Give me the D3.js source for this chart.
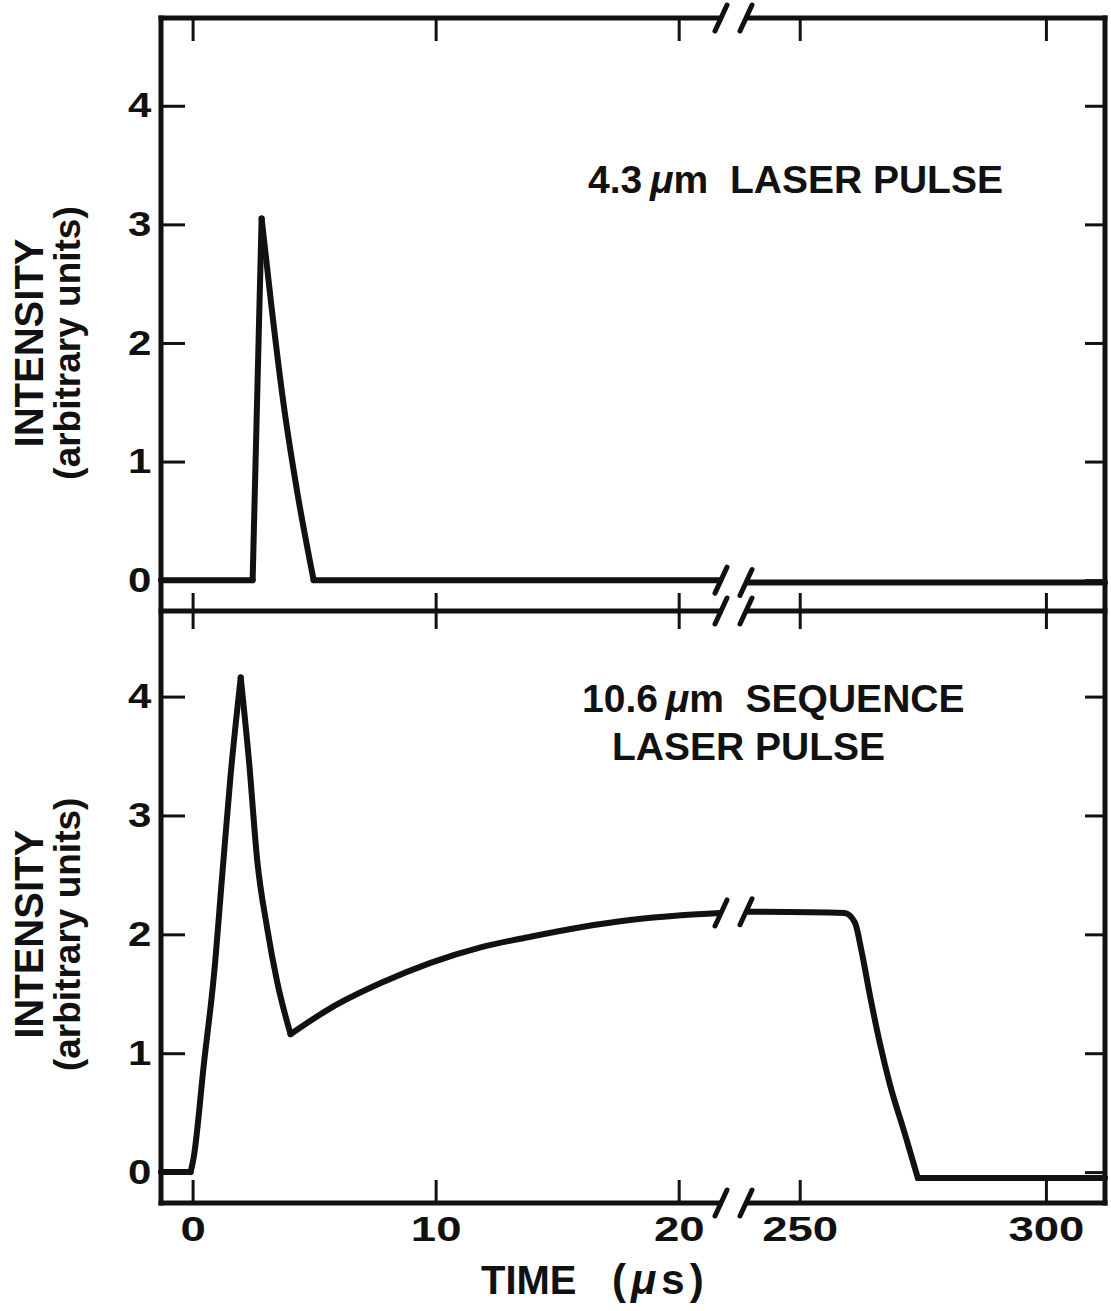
<!DOCTYPE html>
<html>
<head>
<meta charset="utf-8">
<script src="https://cdn.jsdelivr.net/npm/d3@7"></script>
<style>
  body { margin: 0; background: #fff; }
  text { font-family: "Liberation Sans", Arial, sans-serif; font-weight: bold; fill: #111; white-space: pre; }
</style>
</head>
<body>
<svg id="chart" width="1111" height="1311"></svg>
<script>
// Tick values of the broken time axis (µs) and of the intensity axes
const earlyTicks = [0, 10, 20];
const lateTicks = [250, 300];
const intensityTicks = [0, 1, 2, 3, 4];

// 4.3 µm laser pulse: early part (0–22 µs) and late part (240–312 µs)
const pulseEarlyTime  = [-1.3, 2.47, 2.84, 3.25, 3.7, 4.3, 4.98, 21.7];
const pulseEarlyValue = [0,    0,    3.05, 2.30, 1.55, 0.75, 0,  0];
const pulseLateTime   = [239.5, 312];
const pulseLateValue  = [-0.02, -0.02];

// 10.6 µm sequence laser pulse
const seqEarlyTime  = [-1.3, -0.08, 0.05, 0.47, 0.88, 1.22, 1.56, 1.98, 2.32, 2.66, 3.07, 3.48, 4.03,
                       5.68, 7.74, 9.79, 11.85, 13.9, 15.97, 18.0, 20.1, 21.7];
const seqEarlyValue = [0,    0,     0.13, 0.92, 1.66, 2.50, 3.33, 4.16, 3.46, 2.62, 2.05, 1.60, 1.16,
                       1.38, 1.59, 1.76, 1.89, 1.98, 2.06, 2.12, 2.16, 2.18];
const seqLateTime   = [239.5, 259.1, 261.2, 262.6, 264.2, 266.3, 268.3, 271.3, 274.0, 312];
const seqLateValue  = [2.19,  2.18,  2.10,  1.85,  1.50,  1.08,  0.74,  0.33,  -0.05, -0.05];

const svg = d3.select("#chart");

// Broken time axis: two linear pieces sharing one pixel row
const xEarly = d3.scaleLinear().domain([-1.3, 21.7]).range([161, 720]);
const xLate  = d3.scaleLinear().domain([239.5, 312]).range([748, 1105]);
const yTop = d3.scaleLinear().domain([-0.26, 4.74]).range([611, 18]);
const yBot = d3.scaleLinear().domain([-0.26, 4.72]).range([1203, 611]);

const left = 161, right = 1105;
const rows = [18, 611, 1203];

const frame = svg.append("g").attr("stroke", "#111").attr("stroke-width", 5).attr("fill", "none")
  .attr("stroke-linecap", "square");
frame.append("line").attr("x1", left).attr("x2", left).attr("y1", rows[0]).attr("y2", rows[2]);
frame.append("line").attr("x1", right).attr("x2", right).attr("y1", rows[0]).attr("y2", rows[2]);
rows.forEach(r => {
  frame.append("line").attr("x1", left).attr("x2", xEarly.range()[1]).attr("y1", r).attr("y2", r);
  frame.append("line").attr("x1", xLate.range()[0]).attr("x2", right).attr("y1", r).attr("y2", r);
});

// Pair of slanted strokes marking the axis break
function breakMarks(y0, y1) {
  const g = svg.append("g").attr("stroke", "#111").attr("stroke-width", 5).attr("stroke-linecap", "round");
  const c1 = xEarly.range()[1] + 1, c2 = xLate.range()[0] - 2;
  [[c1, y0], [c2, y1]].forEach(([cx, cy]) => {
    g.append("line").attr("x1", cx - 6).attr("y1", cy + 13).attr("x2", cx + 6).attr("y2", cy - 13);
  });
}
rows.forEach(r => breakMarks(r, r));

function styleAxis(g, w) {
  g.select(".domain").remove();
  g.selectAll(".tick line").attr("stroke", "#111").attr("stroke-width", w);
  g.selectAll("text").attr("fill", "#111");
}

// Time ticks: top border (down), shared middle row (both ways), bottom (up, labelled)
[[xEarly, earlyTicks], [xLate, lateTicks]].forEach(([sc, tv]) => {
  svg.append("g").attr("transform", `translate(0,${rows[0]})`)
    .call(d3.axisBottom(sc).tickValues(tv).tickSizeInner(23).tickSizeOuter(0).tickFormat(""))
    .call(g => styleAxis(g, 3));
  svg.append("g").attr("transform", `translate(0,${rows[1]})`)
    .call(d3.axisBottom(sc).tickValues(tv).tickSizeInner(18).tickSizeOuter(0).tickFormat(""))
    .call(g => styleAxis(g, 3));
  svg.append("g").attr("transform", `translate(0,${rows[1]})`)
    .call(d3.axisTop(sc).tickValues(tv).tickSizeInner(18).tickSizeOuter(0).tickFormat(""))
    .call(g => styleAxis(g, 3));
  svg.append("g").attr("transform", `translate(0,${rows[2]})`)
    .call(d3.axisBottom(sc).tickValues(tv).tickSizeInner(-23).tickSizeOuter(0).tickPadding(13).tickFormat(d3.format("d")))
    .call(g => styleAxis(g, 3))
    .call(g => g.selectAll("text").attr("font-size", 35).attr("transform", "scale(1.3,1)"));
});

// Intensity ticks on both sides of each panel
[yTop, yBot].forEach(ys => {
  svg.append("g").attr("transform", `translate(${left},0)`)
    .call(d3.axisLeft(ys).tickValues(intensityTicks).tickSizeInner(-24).tickSizeOuter(0).tickPadding(8).tickFormat(d3.format("d")))
    .call(g => styleAxis(g, 3))
    .call(g => g.selectAll("text").attr("font-size", 35).attr("transform", "scale(1.2,1)"));
  svg.append("g").attr("transform", `translate(${right},0)`)
    .call(d3.axisRight(ys).tickValues(intensityTicks).tickSizeInner(-20).tickSizeOuter(0).tickFormat(""))
    .call(g => styleAxis(g, 3));
});

// Traces: smooth monotone pieces between the sharp corners (where the slope changes sign)
function trace(times, values, xs, ys) {
  const pts = times.map((t, i) => [t, values[i]]);
  const sgn = i => Math.sign(pts[i + 1][1] - pts[i][1]);
  const pieces = [];
  let start = 0;
  for (let i = 1; i < pts.length - 1; i++) {
    if (sgn(i - 1) !== sgn(i)) { pieces.push(pts.slice(start, i + 1)); start = i; }
  }
  pieces.push(pts.slice(start));
  const line = d3.line().x(d => xs(d[0])).y(d => ys(d[1])).curve(d3.curveMonotoneX);
  svg.append("g").selectAll("path").data(pieces).join("path")
    .attr("fill", "none").attr("stroke", "#111").attr("stroke-width", 6)
    .attr("stroke-linejoin", "round").attr("stroke-linecap", "round")
    .attr("d", line);
}
trace(pulseEarlyTime, pulseEarlyValue, xEarly, yTop);
trace(pulseLateTime, pulseLateValue, xLate, yTop);
trace(seqEarlyTime, seqEarlyValue, xEarly, yBot);
trace(seqLateTime, seqLateValue, xLate, yBot);
breakMarks(yTop(pulseEarlyValue[pulseEarlyValue.length - 1]), yTop(pulseLateValue[0]));
breakMarks(yBot(seqEarlyValue[seqEarlyValue.length - 1]), yBot(seqLateValue[0]));

// Axis titles
[yTop, yBot].forEach(ys => {
  const cy = ys(2);
  svg.append("text").attr("transform", `translate(43,${cy}) rotate(-90)`)
    .attr("text-anchor", "middle").attr("font-size", 40).text("INTENSITY");
  svg.append("text").attr("transform", `translate(80,${cy}) rotate(-90)`)
    .attr("text-anchor", "middle").attr("font-size", 37).text("(arbitrary units)");
});
const tt = svg.append("text").attr("x", 481).attr("y", 1294).attr("font-size", 40);
tt.append("tspan").text("TIME");
tt.append("tspan").attr("x", 612).attr("font-size", 42).style("letter-spacing", "5px").text("(");
tt.append("tspan").attr("font-size", 42).attr("font-style", "italic").style("letter-spacing", "5px").text("μ");
tt.append("tspan").attr("font-size", 42).style("letter-spacing", "5px").text("s)");

// Panel labels
function label(x, y, parts) {
  const t = svg.append("text").attr("x", x).attr("y", y).attr("font-size", 39);
  parts.forEach(([s, it]) => t.append("tspan").attr("font-style", it ? "italic" : null).text(s));
}
label(588, 193, [["4.3\u2009", 0], ["μ", 1], ["m  LASER PULSE", 0]]);
label(582, 712, [["10.6\u2009", 0], ["μ", 1], ["m  SEQUENCE", 0]]);
label(612, 760, [["LASER PULSE", 0]]);
</script>
</body>
</html>
